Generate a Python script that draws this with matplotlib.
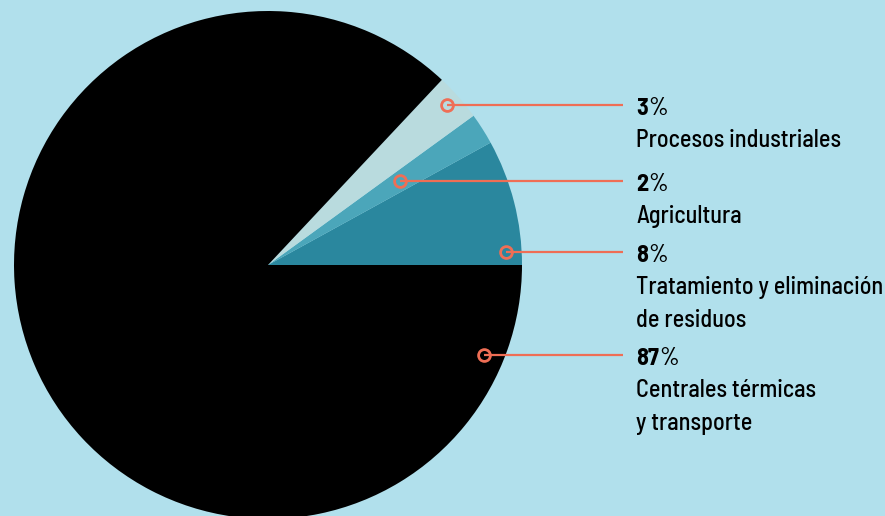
import numpy as np
import matplotlib
matplotlib.use("Agg")
import matplotlib.pyplot as plt
from matplotlib import font_manager

# ---- data ----
values = [8, 2, 3, 87]  # counterclockwise from east
categories = ["Tratamiento y eliminación\nde residuos", "Agricultura",
              "Procesos industriales", "Centrales térmicas\ny transporte"]
pct_labels = ["8", "2", "3", "87"]

# ---- style / layout ----
colors = ["#2a879e", "#4ba6ba", "#b9dbde", "#000000"]
bg = "#b1e0ec"
orange = "#ef6e55"
# anchor (angle deg, radius fraction) per slice
anchors = [(3.1, 0.937), (32.5, 0.614), (41.8, 0.945), (-22.6, 0.921)]

W, H = 885, 516
cx, cy, R = 268, H - 265, 254
line_end_x = 623
text_x = 636

avail = {f.name for f in font_manager.fontManager.ttflist}
fam = "DejaVu Sans"
for cand in ["Barlow Semi Condensed", "Barlow Condensed", "IBM Plex Sans Condensed",
             "Open Sans Condensed", "Roboto Condensed", "Liberation Sans Narrow"]:
    if cand in avail:
        fam = cand
        break
fs = 17.4

fig = plt.figure(figsize=(W / 100, H / 100), dpi=100, facecolor=bg)
ax = fig.add_axes([0, 0, 1, 1])
ax.set_facecolor(bg)
ax.pie(values, colors=colors, startangle=0, counterclock=True,
       center=(cx, cy), radius=R, frame=True,
       wedgeprops=dict(linewidth=0))
ax.set_xlim(0, W)
ax.set_ylim(0, H)
ax.set_aspect("equal")
ax.axis("off")

for val, cat, pl, (ang, fr) in zip(values, categories, pct_labels, anchors):
    a = np.deg2rad(ang)
    px = cx + R * fr * np.cos(a)
    py = cy + R * fr * np.sin(a)
    ax.plot([px, line_end_x], [py, py], color=orange, lw=1.6, zorder=3,
            solid_capstyle="butt")
    ax.plot([px], [py], marker="o", ms=8.5, mfc="none", mec=orange, mew=2.0,
            zorder=4)
    base = py - 10  # baseline of percent text
    t = ax.text(text_x, base, pl, fontsize=fs, fontweight="bold", family=fam,
                va="baseline", ha="left", color="black")
    ax.annotate("%", xy=(1, 0), xycoords=t, xytext=(0.3, 0),
                textcoords="offset points", fontsize=fs, family=fam,
                fontweight="medium", va="bottom", ha="left", color="black")
    for i, line in enumerate(cat.split("\n")):
        ax.text(text_x, base - 32 - 33 * i, line, fontsize=fs, family=fam,
                fontweight="medium", va="baseline", ha="left", color="black")

fig.savefig("out.png", dpi=100, facecolor=bg)
